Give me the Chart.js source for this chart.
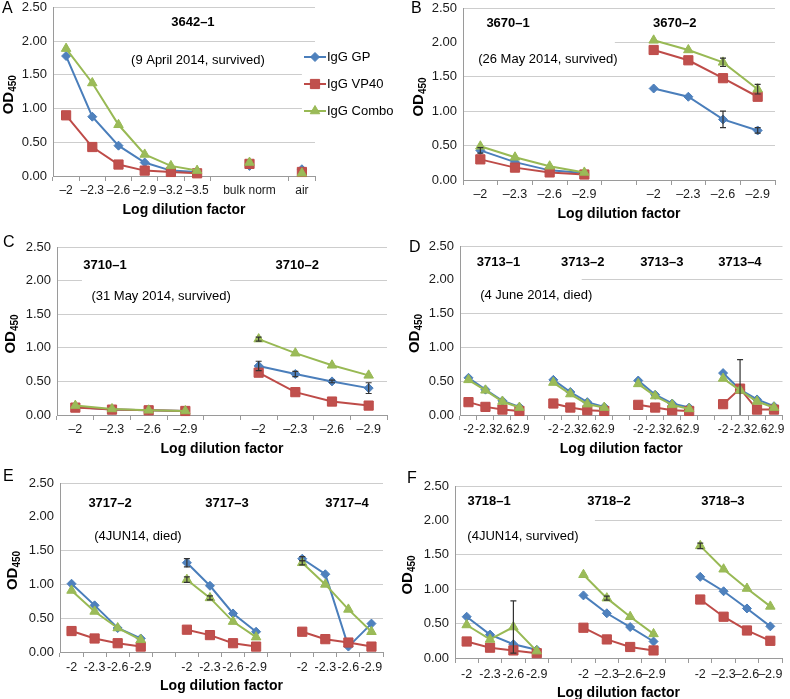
<!DOCTYPE html>
<html>
<head>
<meta charset="utf-8">
<script src="https://cdn.jsdelivr.net/npm/chart.js@4.4.1/dist/chart.umd.min.js"></script>
<style>
  body { margin: 0; background: #fff; }
  #wrap { position: relative; width: 790px; height: 699px; }
  canvas { position: absolute; }
</style>
</head>
<body>
<div id="wrap">
  <canvas id="pA" width="395" height="233" style="left:0;top:0"></canvas>
  <canvas id="pB" width="395" height="233" style="left:395px;top:0"></canvas>
  <canvas id="pC" width="395" height="233" style="left:0;top:233px"></canvas>
  <canvas id="pD" width="395" height="233" style="left:395px;top:233px"></canvas>
  <canvas id="pE" width="395" height="233" style="left:0;top:466px"></canvas>
  <canvas id="pF" width="395" height="233" style="left:395px;top:466px"></canvas>
</div>
<script>
// ---- data (empty labels / nulls are spacer slots between sample groups) ----
const labelsA = ['–2', '–2.3', '–2.6', '–2.9', '–3.2', '–3.5', '', 'bulk norm', '', 'air'];
const gpA    = [1.78, 0.88, 0.45, 0.20, 0.08, 0.06, null, 0.15, null, 0.10];
const vp40A  = [0.90, 0.43, 0.17, 0.08, 0.06, 0.04, null, 0.18, null, 0.06];
const comboA = [1.89, 1.38, 0.76, 0.32, 0.15, 0.08, null, 0.20, null, 0.04];

const labelsB = ['–2', '–2.3', '–2.6', '–2.9', '', '–2', '–2.3', '–2.6', '–2.9'];
const gpB    = [0.43, 0.26, 0.14, 0.10, null, 1.33, 1.21, 0.88, 0.72];
const vp40B  = [0.30, 0.18, 0.11, 0.08, null, 1.89, 1.74, 1.48, 1.21];
const comboB = [0.49, 0.33, 0.20, 0.11, null, 2.03, 1.89, 1.71, 1.32];
const errGpB    = [0.04, null, null, null, null, null, null, 0.12, 0.04];
const errComboB = [null, null, null, null, null, null, null, 0.06, 0.07];

const labelsC = ['–2', '–2.3', '–2.6', '–2.9', '', '–2', '–2.3', '–2.6', '–2.9'];
const gpC    = [0.12, 0.08, 0.07, 0.06, null, 0.73, 0.61, 0.50, 0.40];
const vp40C  = [0.11, 0.08, 0.07, 0.06, null, 0.63, 0.34, 0.20, 0.14];
const comboC = [0.14, 0.09, 0.07, 0.06, null, 1.13, 0.92, 0.74, 0.59];
const errGpC    = [null, null, null, null, null, 0.07, 0.04, 0.02, 0.08];
const errComboC = [null, null, null, null, null, 0.03, null, null, null];

const labelsD = ['-2', '-2.3', '-2.6', '-2.9', '', '-2', '-2.3', '-2.6', '-2.9', '',
                 '-2', '-2.3', '-2.6', '-2.9', '', '-2', '-2.3', '-2.6', '-2.9'];
const gpD    = [0.55, 0.375, 0.21, 0.12, null, 0.52, 0.34, 0.19, 0.12, null,
                0.51, 0.30, 0.17, 0.11, null, 0.62, 0.375, 0.23, 0.13];
const vp40D  = [0.19, 0.12, 0.08, 0.06, null, 0.17, 0.11, 0.07, 0.06, null,
                0.15, 0.11, 0.07, 0.06, null, 0.16, 0.39, 0.08, 0.08];
const comboD = [0.52, 0.365, 0.20, 0.11, null, 0.48, 0.31, 0.16, 0.11, null,
                0.46, 0.28, 0.15, 0.09, null, 0.54, 0.365, 0.20, 0.11];
const errVp40D = [null, null, null, null, null, null, null, null, null, null,
                  null, null, null, null, null, null, 0.43, null, null];

const labelsE = ['-2', '-2.3', '-2.6', '-2.9', '', '-2', '-2.3', '-2.6', '-2.9', '', '-2', '-2.3', '-2.6', '-2.9'];
const gpE    = [1.01, 0.69, 0.355, 0.20, null, 1.32, 0.98, 0.57, 0.30, null, 1.38, 1.15, 0.08, 0.42];
const vp40E  = [0.31, 0.20, 0.13, 0.08, null, 0.33, 0.25, 0.13, 0.08, null, 0.30, 0.19, 0.14, 0.08];
const comboE = [0.91, 0.60, 0.355, 0.18, null, 1.07, 0.80, 0.45, 0.22, null, 1.32, 1.00, 0.63, 0.30];
const errGpE    = [null, null, null, null, null, 0.06, null, null, null, null, 0.03, null, null, null];
const errComboE = [null, null, null, null, null, 0.04, 0.03, null, null, null, 0.03, null, null, null];

const labelsF = ['-2', '-2.3', '-2.6', '-2.9', '', '-2', '–2.3', '–2.6', '–2.9', '', '-2', '–2.3', '–2.6', '–2.9'];
const gpF    = [0.60, 0.34, 0.20, 0.12, null, 0.91, 0.65, 0.45, 0.24, null, 1.18, 0.97, 0.72, 0.46];
const vp40F  = [0.24, 0.15, 0.11, 0.07, null, 0.44, 0.27, 0.16, 0.11, null, 0.85, 0.60, 0.40, 0.25];
const comboF = [0.48, 0.27, 0.45, 0.10, null, 1.21, 0.87, 0.60, 0.35, null, 1.63, 1.29, 1.01, 0.75];
const errComboF = [null, null, 0.38, null, null, null, 0.03, null, null, null, 0.04, null, null, null];

const seriesNames = ['IgG GP', 'IgG VP40', 'IgG Combo'];

// ---- look ----
const FONT = '"Liberation Sans", Arial, Helvetica, sans-serif';
Chart.defaults.font.family = FONT;
Chart.defaults.color = '#1a1a1a';

const styles = [
  { line: '#4A7EBB', fill: '#4F81BD', point: 'rectRot', r: 4.5, order: 3 },
  { line: '#BE4B48', fill: '#C0504D', point: 'rect', r: 6.5, order: 2 },
  { line: '#98B954', fill: '#9BBB59', point: 'triangle', r: 5.5, order: 1 }
];

// annotations, error bars, legend, y title with subscript, panel letters
const extras = {
  id: 'extras',
  beforeDatasetsDraw(chart, args, opts) {
    const { ctx, chartArea: ca, scales: { x, y } } = chart;
    ctx.save();
    ctx.fillStyle = '#fff';
    (opts.boxes || []).forEach(b => {
      const x0 = Math.max(x.getPixelForValue(b[0]), ca.left + 1);
      const x1 = x.getPixelForValue(b[1]);
      const y0 = y.getPixelForValue(b[3]);
      const y1 = y.getPixelForValue(b[2]);
      ctx.fillRect(x0, y0, x1 - x0, y1 - y0);
    });
    ctx.fillStyle = '#000';
    ctx.textAlign = 'center';
    ctx.textBaseline = 'middle';
    (opts.texts || []).forEach(t => {
      ctx.font = (t[3] ? 'bold ' : '') + '13px ' + FONT;
      ctx.fillText(t[0], x.getPixelForValue(t[1]), y.getPixelForValue(t[2]));
    });
    ctx.restore();
  },
  afterDatasetsDraw(chart) {
    const { ctx, scales: { x, y } } = chart;
    ctx.save();
    ctx.strokeStyle = '#333';
    ctx.lineWidth = 1.2;
    chart.data.datasets.forEach(ds => {
      if (!ds.errors) return;
      ds.errors.forEach((e, j) => {
        const v = ds.data[j];
        if (e == null || v == null) return;
        const px = x.getPixelForValue(j);
        const top = y.getPixelForValue(v + e);
        const bot = y.getPixelForValue(Math.max(0, v - e));
        ctx.beginPath();
        ctx.moveTo(px, top); ctx.lineTo(px, bot);
        ctx.moveTo(px - 3, top); ctx.lineTo(px + 3, top);
        if (v - e > 0) { ctx.moveTo(px - 3, bot); ctx.lineTo(px + 3, bot); }
        ctx.stroke();
      });
    });
    ctx.restore();
  },
  afterDraw(chart, args, opts) {
    const { ctx, chartArea: ca } = chart;
    ctx.save();
    ctx.fillStyle = '#000';
    ctx.font = '16px ' + FONT;
    ctx.textAlign = 'left';
    ctx.textBaseline = 'top';
    ctx.fillText(opts.letter, opts.letterPos[0], opts.letterPos[1]);

    // y axis title: OD with subscript 450
    ctx.save();
    ctx.translate(opts.titleX, (ca.top + ca.bottom) / 2 + 3);
    ctx.rotate(-Math.PI / 2);
    ctx.textBaseline = 'alphabetic';
    const big = 'bold 15px ' + FONT, small = 'bold 10px ' + FONT;
    ctx.font = big; const w1 = ctx.measureText('OD').width;
    ctx.font = small; const w2 = ctx.measureText('450').width;
    const x0 = -(w1 + w2) / 2;
    ctx.font = big; ctx.fillText('OD', x0, 5);
    ctx.font = small; ctx.fillText('450', x0 + w1, 8);
    ctx.restore();

    if (opts.legend) {
      const lg = opts.legend;
      chart.data.datasets.forEach((ds, i) => {
        const yy = lg.y + i * lg.dy;
        ctx.strokeStyle = ds.borderColor;
        ctx.lineWidth = 2;
        ctx.beginPath();
        ctx.moveTo(lg.x, yy); ctx.lineTo(lg.x + 22, yy);
        ctx.stroke();
        ctx.fillStyle = ds.pointBackgroundColor;
        ctx.lineWidth = 1;
        Chart.helpers.drawPoint(ctx, { pointStyle: ds.pointStyle, radius: ds.pointRadius, rotation: 0, borderWidth: 1 }, lg.x + 11, yy);
        ctx.fillStyle = '#000';
        ctx.font = '13px ' + FONT;
        ctx.textBaseline = 'middle';
        ctx.fillText(ds.label, lg.x + 23, yy);
      });
    }
    ctx.restore();
  }
};

function makePanel(p) {
  const W = 395, H = 233;
  const values = [p.gp, p.vp40, p.combo];
  const errs = [p.errGp, p.errVp40, p.errCombo];
  const datasets = values.map((d, i) => ({
    label: seriesNames[i],
    data: d,
    errors: errs[i] || null,
    borderColor: styles[i].line,
    backgroundColor: styles[i].fill,
    pointBackgroundColor: styles[i].fill,
    pointBorderColor: styles[i].line,
    pointStyle: styles[i].point,
    pointRadius: styles[i].r,
    pointHoverRadius: styles[i].r,
    borderWidth: 2,
    pointBorderWidth: 1,
    tension: 0,
    spanGaps: false,
    clip: false,
    order: styles[i].order
  }));
  const hide = p.hideTicks || [];
  new Chart(document.getElementById(p.id), {
    type: 'line',
    data: { labels: p.labels, datasets },
    options: {
      responsive: false,
      animation: false,
      events: [],
      layout: { padding: { left: 0, top: p.area.t, right: W - p.area.r, bottom: H - p.area.b - p.xh } },
      scales: {
        x: {
          offset: true,
          ticks: { autoSkip: false, maxRotation: 0, minRotation: 0, padding: p.xPad, font: { size: p.xFont || 12.5 } },
          grid: {
            offset: true, drawOnChartArea: false, drawTicks: true, tickLength: 5,
            tickColor: c => (hide.includes(c.index) ? 'rgba(0,0,0,0)' : '#9a9a9a')
          },
          border: { color: '#9a9a9a' },
          title: { display: true, text: 'Log dilution factor', color: '#000', padding: 0, font: { size: 14, weight: 'bold' } },
          afterFit: s => { s.height = p.xh; s.paddingLeft = 0; s.paddingRight = 0; }
        },
        y: {
          min: 0, max: 2.5,
          ticks: { stepSize: 0.5, padding: 6, font: { size: 13 }, callback: v => v.toFixed(2) },
          grid: { color: '#cdcdcd', drawTicks: false },
          border: { color: '#9a9a9a' },
          title: { display: false },
          afterFit: s => { s.width = p.area.l; s.paddingTop = 0; s.paddingBottom = 0; }
        }
      },
      plugins: {
        legend: { display: false },
        tooltip: { enabled: false },
        extras: { letter: p.letter, letterPos: p.letterPos, titleX: p.titleX, texts: p.texts, boxes: p.boxes, legend: p.legend }
      }
    },
    plugins: [extras]
  });
}

makePanel({
  id: 'pA', letter: 'A', letterPos: [2, 1], titleX: 8, labels: labelsA, gp: gpA, vp40: vp40A, combo: comboA,
  area: { l: 53, r: 315, t: 5, b: 176 }, xh: 43, xPad: 2, xFont: 12, hideTicks: [7, 8],
  texts: [['3642–1', 4.84, 2.28, true], ['(9 April 2014, survived)', 5.03, 1.71]],
  boxes: [[9.0, 9.7, 0.7, 1.9]],
  legend: { x: 304, y: 57, dy: 27 }
});
makePanel({
  id: 'pB', letter: 'B', letterPos: [16, 1], titleX: 23, labels: labelsB, gp: gpB, vp40: vp40B, combo: comboB,
  errGp: errGpB, errCombo: errComboB,
  area: { l: 68, r: 380, t: 8, b: 180 }, xh: 43, xPad: 2,
  texts: [['3670–1', 0.80, 2.27, true], ['3670–2', 5.61, 2.27, true], ['(26 May 2014, survived)', 1.95, 1.75]],
  boxes: [[-0.5, 3.88, 1.62, 2.40]]
});
makePanel({
  id: 'pC', letter: 'C', letterPos: [3, 2], titleX: 10, labels: labelsC, gp: gpC, vp40: vp40C, combo: comboC,
  errGp: errGpC, errCombo: errComboC,
  area: { l: 57, r: 387, t: 14, b: 182 }, xh: 43, xPad: 2,
  texts: [['3710–1', 0.81, 2.22, true], ['3710–2', 6.05, 2.22, true], ['(31 May 2014, survived)', 2.34, 1.76]],
  boxes: [[0.18, 4.22, 1.62, 2.40]]
});
makePanel({
  id: 'pD', letter: 'D', letterPos: [14, 7], titleX: 19, labels: labelsD, gp: gpD, vp40: vp40D, combo: comboD,
  errVp40: errVp40D,
  area: { l: 65, r: 391, t: 13, b: 182 }, xh: 43, xPad: 2, xFont: 12,
  texts: [['3713–1', 1.77, 2.26, true], ['3713–2', 6.73, 2.26, true], ['3713–3', 11.39, 2.26, true],
          ['3713–4', 15.99, 2.26, true], ['(4 June 2014, died)', 3.99, 1.77]],
  boxes: [[-0.5, 6.67, 1.62, 2.40]]
});
makePanel({
  id: 'pE', letter: 'E', letterPos: [3, 3], titleX: 12, labels: labelsE, gp: gpE, vp40: vp40E, combo: comboE,
  errGp: errGpE, errCombo: errComboE,
  area: { l: 60, r: 383, t: 17, b: 186 }, xh: 43, xPad: 3,
  texts: [['3717–2', 1.67, 2.20, true], ['3717–3', 6.74, 2.20, true], ['3717–4', 11.94, 2.20, true],
          ['(4JUN14, died)', 2.88, 1.71]],
  boxes: [[-0.5, 13.6, 1.62, 2.40]]
});
makePanel({
  id: 'pF', letter: 'F', letterPos: [12, 5], titleX: 12, labels: labelsF, gp: gpF, vp40: vp40F, combo: comboF,
  errCombo: errComboF,
  area: { l: 60, r: 387, t: 20, b: 192 }, xh: 44, xPad: 4,
  texts: [['3718–1', 0.96, 2.28, true], ['3718–2', 6.09, 2.28, true], ['3718–3', 10.97, 2.28, true],
          ['(4JUN14, survived)', 2.41, 1.76]],
  boxes: [[-0.5, 5.49, 1.62, 2.40]]
});
</script>
</body>
</html>
